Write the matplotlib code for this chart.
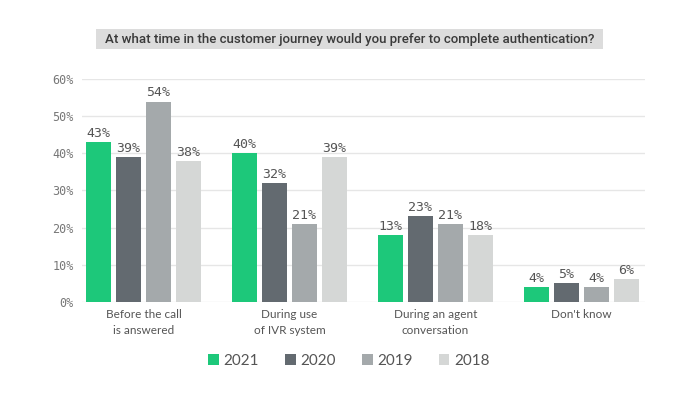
import matplotlib.pyplot as plt
from matplotlib.patches import Patch, Rectangle
import numpy as np

categories = ['Before the call\nis answered', 'During use\nof IVR system',
              'During an agent\nconversation', "Don't know"]
years = ['2021', '2020', '2019', '2018']
# bar heights as drawn
v2021 = [43, 40, 18, 4]
v2020 = [39, 32, 23, 5]
v2019 = [54, 21, 21, 4]
v2018 = [38, 39, 18, 6]
# labels as printed on the chart
l2021 = ['43%', '40%', '13%', '4%']
l2020 = ['39%', '32%', '23%', '5%']
l2019 = ['54%', '21%', '21%', '4%']
l2018 = ['38%', '39%', '18%', '6%']
yticks = [0, 10, 20, 30, 40, 50, 60]

colors = ['#1dc87a', '#636a70', '#a4a9ab', '#d5d7d6']
series = [v2021, v2020, v2019, v2018]
labels = [l2021, l2020, l2019, l2018]

fig = plt.figure(figsize=(7, 3.94), dpi=100)
ax = fig.add_axes([0.1171, 0.2343, 0.8043, 0.5644])

x = np.arange(len(categories))
step = 30 / 146
width = 25 / 146
for i, (vals, labs, c) in enumerate(zip(series, labels, colors)):
    pos = x + (i - 1.5) * step
    bars = ax.bar(pos, vals, width, color=c, zorder=3)
    for b, t in zip(bars, labs):
        ax.text(b.get_x() + b.get_width() / 2, b.get_height() + 0.6, t,
                ha='center', va='bottom', fontsize=9.5, color='#555555',
                family='DejaVu Sans Mono')

ax.set_xlim(-0.421, 3.435)
ax.set_ylim(0, 60)
ax.set_yticks(yticks)
ax.set_yticklabels(['%d%%' % t for t in yticks], family='DejaVu Sans Mono',
                   fontsize=8.5, color='#777777')
ax.set_xticks(x)
ax.set_xticklabels(categories, family='Lato', fontsize=8.5, color='#555555',
                   linespacing=1.6)
ax.tick_params(length=0)
ax.tick_params(axis='y', pad=6)
ax.tick_params(axis='x', pad=5)
for s in ax.spines.values():
    s.set_visible(False)
ax.grid(axis='y', color='#e6e6e6', linewidth=1, zorder=0)

# title box
fig.patches.append(Rectangle((96 / 700, 1 - 49 / 394), 507 / 700, 20 / 394,
                             transform=fig.transFigure, facecolor='#dcdcdc',
                             edgecolor='none', zorder=0))
fig.text(349.5 / 700, 1 - 39.5 / 394,
         'At what time in the customer journey would you prefer to complete authentication?',
         ha='center', va='center', fontsize=9.5, color='#3a3a3a', family='Roboto',
         fontweight='medium')

handles = [Patch(facecolor=c, edgecolor='none') for c in colors]
fig.legend(handles, years, loc='center', bbox_to_anchor=(349 / 700, 1 - 361 / 394),
           ncol=4, frameon=False, prop={'family': 'Lato', 'size': 11},
           handlelength=0.7, handleheight=0.7, handletextpad=0.3,
           columnspacing=1.7, labelcolor='#555555')

fig.savefig('out.png', dpi=100)
